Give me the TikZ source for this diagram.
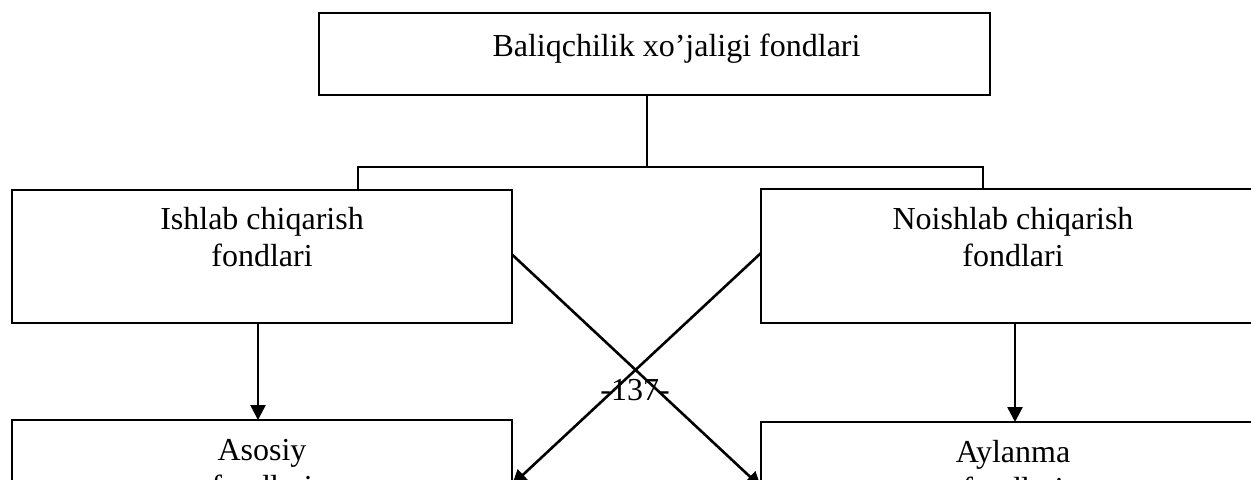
\documentclass[tikz,border=0pt]{standalone}
\usepackage{fontspec}
\setmainfont{Liberation Serif}
\usetikzlibrary{arrows.meta}
\newcommand\boxtext[4]{\parbox[c][#2][t]{#1}{\centering\rule{0pt}{#3}#4\par}}
\tikzset{
  box/.style={draw, line width=1.35pt, inner sep=0pt, outer sep=0pt, anchor=north west},
  conn/.style={line width=1.3pt},
  arr/.style={line width=1.3pt, -{Triangle[length=7.5pt,width=7.5pt]}},
}
\begin{document}
\begin{tikzpicture}[x=0.5pt, y=-0.5pt, font=\fontsize{16pt}{18.5pt}\selectfont]
\useasboundingbox (0,0) rectangle (1251,480);
\clip (0,0) rectangle (1251,480);
\fill[white] (0,0) rectangle (1251,480);
% boxes
\node[box] (top) at (319,13) {\boxtext{335.5pt}{41pt}{22pt}{\hspace*{22pt}Baliqchilik xo’jaligi fondlari}};
\node[box] (ish) at (12,190) {\boxtext{250pt}{66.5pt}{20pt}{Ishlab chiqarish\\fondlari}};
\node[box] (noi) at (761,189) {\boxtext{252pt}{67pt}{20.5pt}{Noishlab chiqarish\\fondlari}};
\node[box] (aso) at (12,420) {\boxtext{250pt}{66.5pt}{20pt}{Asosiy\\fondlari}};
\node[box] (ayl) at (761,422) {\boxtext{252pt}{66.5pt}{20pt}{Aylanma\\fondlari}};
% page number
\node[anchor=base, inner sep=0pt] (pg) at (635,400) {-137-};
% bracket
\coordinate (bm) at (647,167);
\coordinate (bl) at (358,167);
\coordinate (br) at (983,167);
\draw[conn] (top.south -| bm) -- (bm);
\draw[conn] (ish.north -| bl) -- (bl) -- (br) -- (noi.north -| br);
% vertical arrows
\draw[arr] ([xshift=-2pt]ish.south) -- ([xshift=-2pt]aso.north);
\draw[arr] ([xshift=1pt]noi.south) -- ([xshift=1pt]ayl.north);
% crossing arrows
\draw[arr] ([yshift=1pt]ish.east) -- ([yshift=-32.5pt]ayl.north west);
\draw[arr] ([yshift=1.5pt]noi.west) -- ([yshift=-32.5pt]aso.north east);
\end{tikzpicture}
\end{document}
